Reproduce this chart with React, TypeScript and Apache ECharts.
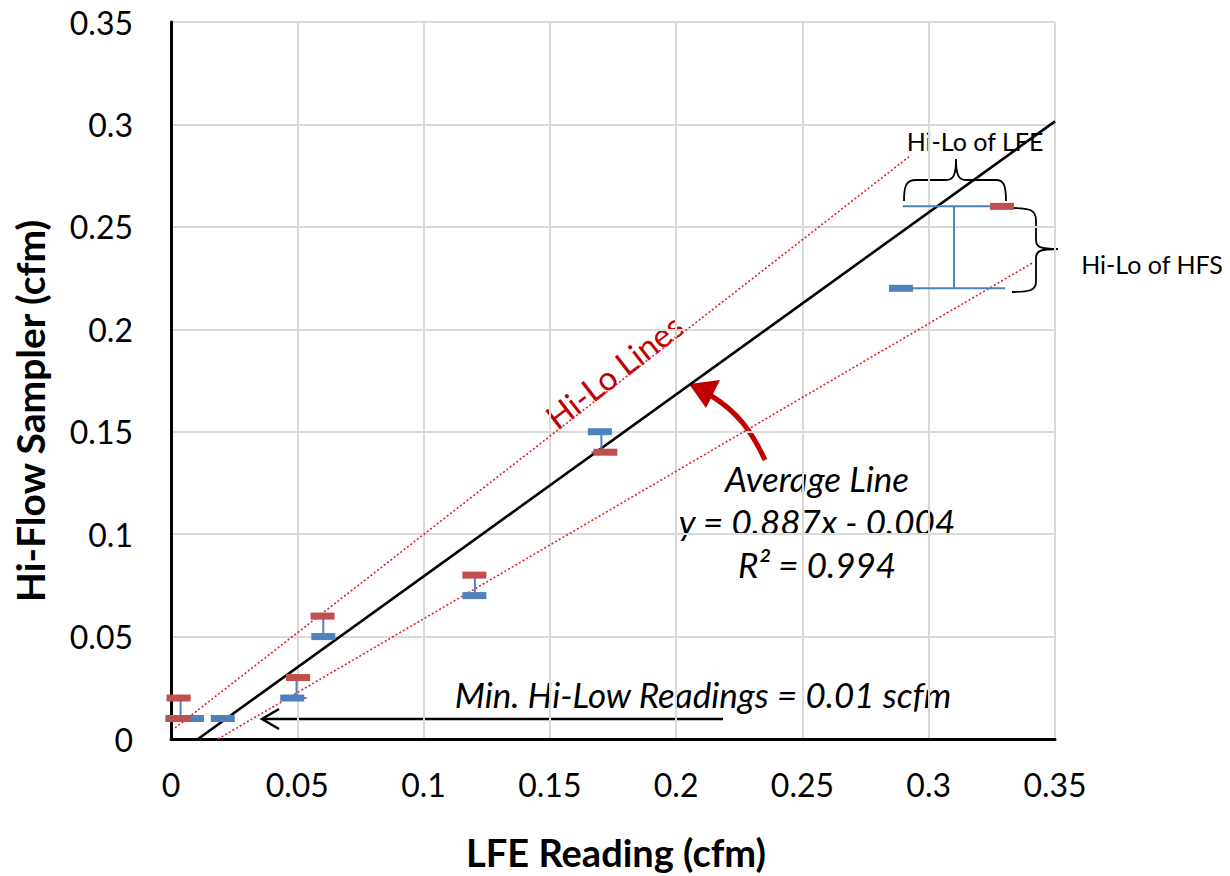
import React, { useEffect, useRef } from "react";
import * as echarts from "echarts";

// ---- data ----
const xTickLabels = ["0", "0.05", "0.1", "0.15", "0.2", "0.25", "0.3", "0.35"];
const yTickLabels = ["0", "0.05", "0.1", "0.15", "0.2", "0.25", "0.3", "0.35"];

// Hi readings (red dashes): [LFE, HFS]
const hiReadings: number[][] = [
  [0.003, 0.02],
  [0.003, 0.01],
  [0.0503, 0.03],
  [0.06, 0.06],
  [0.1201, 0.08],
  [0.172, 0.14],
  [0.329, 0.26],
];
// Lo readings (blue dashes): [LFE, HFS]
const loReadings: number[][] = [
  [0.0025, 0.01],
  [0.0083, 0.01],
  [0.0205, 0.01],
  [0.048, 0.02],
  [0.0603, 0.05],
  [0.1201, 0.07],
  [0.1698, 0.15],
  [0.289, 0.22],
];
// Hi-Lo bars: [LFE mid, HFS lo, HFS hi, LFE lo, LFE hi]
const hiLoBars: number[][] = [
  [0.0038, 0.01, 0.02, 0.0038, 0.0038],
  [0.0497, 0.02, 0.03, 0.0497, 0.0497],
  [0.0603, 0.05, 0.06, 0.0603, 0.0603],
  [0.1203, 0.07, 0.08, 0.1203, 0.1203],
  [0.1704, 0.14, 0.15, 0.1704, 0.1704],
  [0.31, 0.22, 0.26, 0.2905, 0.331],
];
const averageLine: number[][] = [
  [0.0107, 0],
  [0.35, 0.3015],
];
const upperHiLoLine: number[][] = [
  [0.0016, 0.0054],
  [0.293, 0.285],
];
const lowerHiLoLine: number[][] = [
  [0.0186, 0],
  [0.341, 0.2323],
];

const FONT = "Lato";

echarts.graphic.registerShape(
  "braceTop",
  echarts.graphic.extendPath(
    "M904,201 C904,186 906,180 916,180 L946,180 C953,180 956,176 956,159 C956,176 959,180 966,180 L996,180 C1004,180 1006,186 1006,201",
    {}
  )
);
echarts.graphic.registerShape(
  "braceRight",
  echarts.graphic.extendPath(
    "M1012,208 C1030,208 1036,210 1036,220 L1036,240 C1036,247 1040,249 1058,249 C1040,249 1036,251 1036,258 L1036,282 C1036,290 1030,292 1012,292",
    {}
  )
);
echarts.graphic.registerShape(
  "curveArrow",
  echarts.graphic.extendPath("M765,460 C752,432 738,412 710,395", {})
);

export default function App() {
  const ref = useRef<HTMLDivElement>(null);
  useEffect(() => {
    if (!ref.current) return;
    const chart = echarts.init(ref.current, null, { renderer: "svg" });
    const tickFmt = (labels: string[]) => (v: number) => {
      const i = Math.round(v / 0.05);
      return labels[i] ?? "";
    };
    const italic = (text: string, x: number, y: number, size = 35) => ({
      type: "text",
      x,
      y,
      style: {
        text,
        fill: "#000",
        fontFamily: FONT,
        fontStyle: "italic",
        fontSize: size,
        align: "center",
        verticalAlign: "middle",
      },
    });
    const option: any = {
      animation: false,
      backgroundColor: "#ffffff",
      grid: { left: 171, top: 22, right: 175, bottom: 137, containLabel: false },
      xAxis: [
        {
          type: "value",
          min: 0,
          max: 0.35,
          interval: 0.05,
          axisLine: { show: true, lineStyle: { color: "#7f7f7f", width: 2 } },
          axisTick: { show: false },
          axisLabel: {
            formatter: tickFmt(xTickLabels),
            fontFamily: FONT,
            fontSize: 32,
            color: "#000",
            margin: 29,
          },
          splitLine: { show: true, lineStyle: { color: "#d9d9d9", width: 2 } },
        },
        {
          type: "value",
          position: "top",
          min: 0,
          max: 0.35,
          interval: 0.05,
          axisLine: { show: true, lineStyle: { color: "#000", width: 3 } },
          axisTick: { show: false },
          axisLabel: { show: false },
          splitLine: { show: false },
        },
      ],
      yAxis: [
        {
          type: "value",
          min: 0,
          max: 0.35,
          interval: 0.05,
          axisLine: { show: true, lineStyle: { color: "#666666", width: 2 } },
          axisTick: { show: false },
          axisLabel: {
            formatter: tickFmt(yTickLabels),
            fontFamily: FONT,
            fontSize: 32,
            color: "#000",
            margin: 38,
          },
          splitLine: { show: true, lineStyle: { color: "#d9d9d9", width: 2 } },
        },
        {
          type: "value",
          position: "right",
          min: 0,
          max: 0.35,
          interval: 0.05,
          axisLine: { show: true, lineStyle: { color: "#000", width: 3 } },
          axisTick: { show: false },
          axisLabel: { show: false },
          splitLine: { show: false },
        },
      ],
      series: [
        {
          type: "line",
          data: upperHiLoLine,
          symbol: "none",
          lineStyle: { color: "#e3202a", width: 1.6, type: [2, 2.2] },
          z: 3,
        },
        {
          type: "line",
          data: lowerHiLoLine,
          symbol: "none",
          lineStyle: { color: "#e3202a", width: 1.6, type: [2, 2.2] },
          z: 3,
        },
        {
          type: "line",
          data: averageLine,
          symbol: "none",
          lineStyle: { color: "#000", width: 2.6 },
          z: 3,
        },
        {
          type: "custom",
          data: hiLoBars,
          z: 4,
          renderItem: (params: any, api: any) => {
            const x = api.value(0);
            const lo = api.coord([x, api.value(1)]);
            const hi = api.coord([x, api.value(2)]);
            const xl = api.coord([api.value(3), api.value(1)])[0];
            const xr = api.coord([api.value(4), api.value(1)])[0];
            const half = Math.max(10, (xr - xl) / 2);
            const style = { stroke: "#4f81bd", lineWidth: 2 };
            return {
              type: "group",
              children: [
                { type: "line", shape: { x1: lo[0], y1: lo[1], x2: hi[0], y2: hi[1] }, style },
                { type: "line", shape: { x1: lo[0] - half, y1: lo[1], x2: lo[0] + half, y2: lo[1] }, style },
                { type: "line", shape: { x1: hi[0] - half, y1: hi[1], x2: hi[0] + half, y2: hi[1] }, style },
              ],
            };
          },
        },
        {
          type: "scatter",
          data: loReadings,
          symbol: "rect",
          symbolSize: [24, 7],
          itemStyle: { color: "#4f81bd", opacity: 1 },
          z: 5,
        },
        {
          type: "scatter",
          data: hiReadings,
          symbol: "rect",
          symbolSize: [24, 7],
          itemStyle: { color: "#c0504d", opacity: 1 },
          z: 6,
        },
      ],
      graphic: [
        {
          type: "text",
          x: 614,
          y: 371,
          rotation: 0.66,
          style: {
            text: "Hi-Lo Lines",
            fill: "#c00000",
            fontFamily: FONT,
            fontSize: 33,
            align: "center",
            verticalAlign: "middle",
          },
        },
        {
          type: "text",
          x: 975,
          y: 141,
          style: {
            text: "Hi-Lo of LFE",
            fill: "#000",
            fontFamily: FONT,
            fontSize: 25,
            align: "center",
            verticalAlign: "middle",
          },
        },
        {
          type: "text",
          x: 1152,
          y: 264,
          style: {
            text: "Hi-Lo of HFS",
            fill: "#000",
            fontFamily: FONT,
            fontSize: 25,
            align: "center",
            verticalAlign: "middle",
          },
        },
        {
          type: "braceTop",
          style: { stroke: "#000", lineWidth: 1.8, fill: "none" },
        },
        {
          type: "braceRight",
          style: { stroke: "#000", lineWidth: 1.8, fill: "none" },
        },
        italic("Average Line", 817, 478),
        italic("y = 0.887x - 0.004", 817, 521),
        italic("R² = 0.994", 817, 564),
        {
          type: "curveArrow",
          style: { stroke: "#c00000", lineWidth: 5, fill: "none" },
        },
        {
          type: "polygon",
          shape: { points: [[689, 384], [720, 380], [706, 408]] },
          style: { fill: "#c00000" },
        },
        italic("Min. Hi-Low Readings = 0.01 scfm", 703, 694),
        {
          type: "polyline",
          shape: { points: [[723, 719], [263, 719]] },
          style: { stroke: "#000", lineWidth: 2.5, fill: "none" },
        },
        {
          type: "polyline",
          shape: { points: [[279, 709], [262, 719], [279, 729]] },
          style: { stroke: "#000", lineWidth: 2.5, fill: "none" },
        },
        {
          type: "text",
          x: 30,
          y: 411,
          rotation: Math.PI / 2,
          style: {
            text: "Hi-Flow Sampler (cfm)",
            fill: "#000",
            fontFamily: FONT,
            fontWeight: "bold",
            fontSize: 39,
            align: "center",
            verticalAlign: "middle",
          },
        },
        {
          type: "text",
          x: 616,
          y: 852,
          style: {
            text: "LFE Reading (cfm)",
            fill: "#000",
            fontFamily: FONT,
            fontWeight: "bold",
            fontSize: 38,
            align: "center",
            verticalAlign: "middle",
          },
        },
      ],
    };
    chart.setOption(option);
    return () => chart.dispose();
  }, []);
  return (
    <div
      ref={ref}
      style={{ position: "fixed", left: 0, top: 0, width: 1230, height: 876, background: "#fff" }}
    />
  );
}
